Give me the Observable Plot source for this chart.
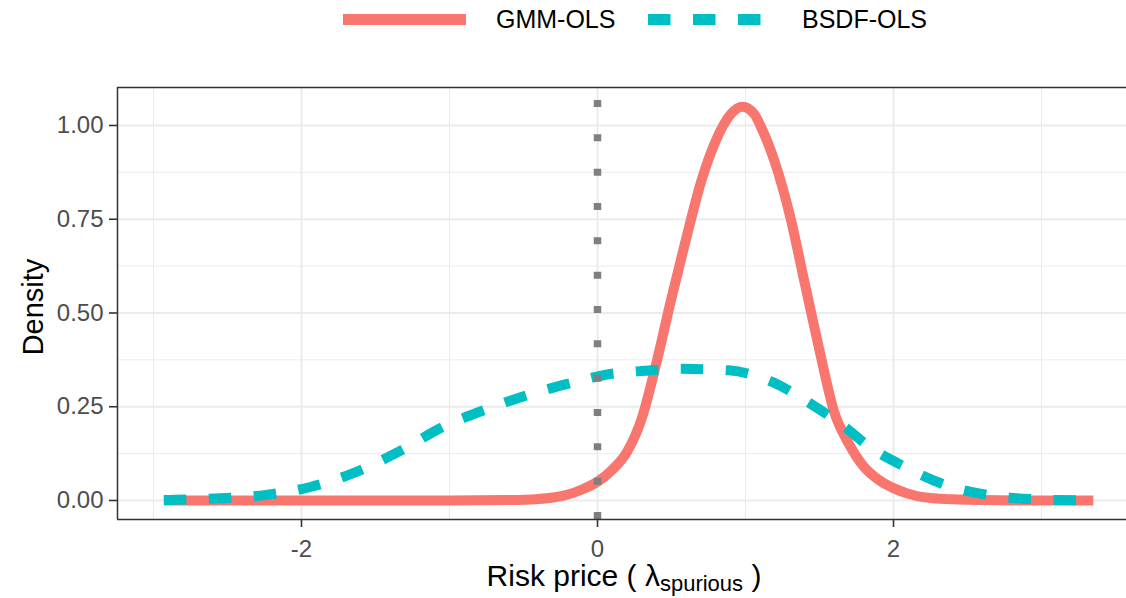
<!DOCTYPE html>
<html><head><meta charset="utf-8">
<script src="https://cdn.jsdelivr.net/npm/d3@7"></script>
<script src="https://cdn.jsdelivr.net/npm/@observablehq/plot@0.6"></script>
<style>
body{margin:0;background:#fff;font-family:"Liberation Sans",Arial,Helvetica,sans-serif;}
#legend{height:40px;}
#legend svg, #chart svg{display:block;}
</style></head><body>
<div id="legend"></div>
<div id="chart"></div>
<script>
const seriesNames = ["GMM-OLS", "BSDF-OLS"];
const seriesColors = ["#F8766D", "#00BFC4"];

const gmmX = [-2.93, -2.0, -1.0, -0.6, -0.4, -0.3, -0.2, -0.1, 0.0, 0.1, 0.2, 0.3, 0.4, 0.5, 0.6, 0.7, 0.8, 0.9, 0.98, 1.06, 1.1, 1.2, 1.3, 1.4, 1.5, 1.6, 1.7, 1.8, 1.9, 2.0, 2.1, 2.2, 2.4, 2.6, 3.0, 3.35];
const gmmY = [0, 0, 0, 0.001, 0.004, 0.008, 0.016, 0.03, 0.05, 0.082, 0.13, 0.22, 0.37, 0.54, 0.70, 0.85, 0.96, 1.03, 1.05, 1.03, 1.0, 0.9, 0.76, 0.58, 0.40, 0.235, 0.15, 0.09, 0.055, 0.033, 0.018, 0.009, 0.003, 0.001, 0, 0];

const bsdfX = [-2.93, -2.85, -2.55, -2.24, -1.94, -1.65, -1.33, -1.04, -0.745, -0.45, -0.149, 0.066, 0.29, 0.572, 0.887, 1.18, 1.44, 1.70, 1.81, 2.08, 2.36, 2.67, 2.97, 3.35];
const bsdfY = [0.001, 0.002, 0.006, 0.015, 0.036, 0.073, 0.133, 0.197, 0.244, 0.284, 0.316, 0.336, 0.345, 0.351, 0.347, 0.316, 0.258, 0.187, 0.151, 0.089, 0.040, 0.013, 0.003, 0.0];

const xTicks = [-2, 0, 2];
const xMinor = [-3, -1, 1, 3];
const yTicks = [0, 0.25, 0.5, 0.75, 1.0];
const yMinor = [0.125, 0.375, 0.625, 0.875];
const xDomain = [-3.2432, 3.5743];
const yDomain = [-0.0507, 1.1013];
const refLine = [0];

const gmm = gmmX.map((x, i) => ({x, y: gmmY[i], series: seriesNames[0]}));
const bsdf = bsdfX.map((x, i) => ({x, y: bsdfY[i], series: seriesNames[1]}));

// Legend (above the plot SVG)
const leg = d3.select("#legend").append("svg").attr("width", 1126).attr("height", 40)
  .style("font-family", '"Liberation Sans", Arial, Helvetica, sans-serif');
leg.append("line").attr("x1", 343).attr("x2", 466).attr("y1", 19.5).attr("y2", 19.5)
  .attr("stroke", seriesColors[0]).attr("stroke-width", 11);
leg.append("text").attr("x", 496).attr("y", 28).attr("font-size", 25).attr("fill", "#000").text(seriesNames[0]);
leg.append("line").attr("x1", 648).attr("x2", 762).attr("y1", 19.5).attr("y2", 19.5)
  .attr("stroke", seriesColors[1]).attr("stroke-width", 11).attr("stroke-dasharray", "22.5,22.5");
leg.append("text").attr("x", 802).attr("y", 28).attr("font-size", 25).attr("fill", "#000").text(seriesNames[1]);

const chart = Plot.plot({
  width: 1126, height: 558,
  marginTop: 47, marginBottom: 79, marginLeft: 117, marginRight: 0,
  style: {fontFamily: '"Liberation Sans", Arial, Helvetica, sans-serif', fontSize: "24px", background: "white", overflow: "visible"},
  x: {domain: xDomain},
  y: {domain: yDomain},
  marks: [
    Plot.gridX(xMinor, {stroke: "#EBEBEB", strokeOpacity: 1, strokeWidth: 1}),
    Plot.gridY(yMinor, {stroke: "#EBEBEB", strokeOpacity: 1, strokeWidth: 1}),
    Plot.gridX(xTicks, {stroke: "#EBEBEB", strokeOpacity: 1, strokeWidth: 2}),
    Plot.gridY(yTicks, {stroke: "#EBEBEB", strokeOpacity: 1, strokeWidth: 2}),
    Plot.line(gmm, {x: "x", y: "y", stroke: seriesColors[0], strokeWidth: 10, curve: "monotone-x", strokeLinecap: "butt", strokeLinejoin: "round"}),
    Plot.line(bsdf, {x: "x", y: "y", stroke: seriesColors[1], strokeWidth: 10, curve: "monotone-x", strokeLinecap: "butt", strokeLinejoin: "round", strokeDasharray: "22.5,22.5"}),
    Plot.ruleX(refLine, {y1: yDomain[0], y2: yDomain[1], stroke: "#7F7F7F", strokeWidth: 7.5, strokeDasharray: "7,27.33"}),
    Plot.ruleY([yDomain[0], yDomain[1]], {stroke: "#333333", strokeWidth: 1.5}),
    Plot.ruleX([xDomain[0]], {stroke: "#333333", strokeWidth: 1.5}),
    Plot.axisX(xTicks, {tickSize: 8, tickPadding: 12, tickFormat: d => String(d), label: null, stroke: "#333333", strokeWidth: 1.6, fill: "#4D4D4D", fontSize: 24}),
    Plot.axisY(yTicks, {tickSize: 8, tickPadding: 6, tickFormat: d3.format(".2f"), label: null, stroke: "#333333", strokeWidth: 1.6, fill: "#4D4D4D", fontSize: 24})
  ]
});
document.getElementById("chart").appendChild(chart);

// Axis titles with subscript
const svg = d3.select(chart);
const xt = svg.append("text").attr("x", 624).attr("y", 546).attr("text-anchor", "middle")
  .attr("font-size", 30).attr("fill", "#000");
xt.append("tspan").text("Risk price ( λ");
xt.append("tspan").attr("font-size", 22).attr("dy", 5).text("spurious");
xt.append("tspan").attr("dy", -5).text(" )");
svg.append("text").attr("transform", "translate(43,267) rotate(-90)").attr("text-anchor", "middle")
  .attr("font-size", 29).attr("fill", "#000").text("Density");
</script>
</body></html>
